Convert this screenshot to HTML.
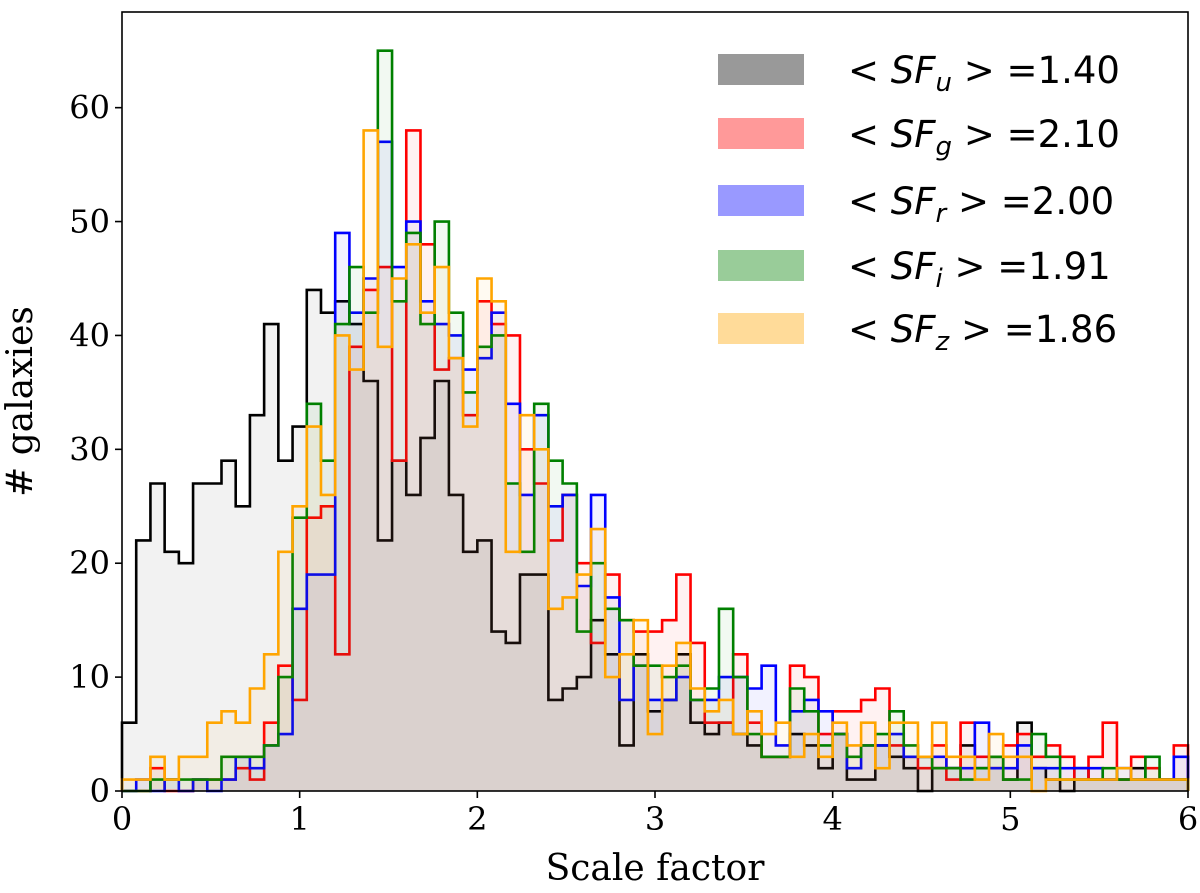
<!DOCTYPE html>
<html><head><meta charset="utf-8">
<style>
html,body{margin:0;padding:0;background:#fff;}
svg{display:block;}
text{font-family:"DejaVu Serif","Liberation Serif",serif;}
.lg{font-family:"DejaVu Sans","Liberation Sans",sans-serif;font-size:37px;}
</style></head>
<body>
<svg id="chart" width="1200" height="893" viewBox="0 0 1200 893" xmlns="http://www.w3.org/2000/svg"></svg>
<script>
const binCount = 75;
const xMin = 0, xMax = 6, yMax = 68.4;
const xTicks = [0,1,2,3,4,5,6];
const yTicks = [0,10,20,30,40,50,60];
const countsU = [6,22,27,21,20,27,27,29,25,33, 41,29,32,44,42,43,41,36,22,29, 26,31,36,26,21,22,14,13,19,19, 8,9,10,15,12,4,12,7,8,12, 6,5,6,5,4,3,3,5,4,2, 5,1,1,4,3,2,0,2,2,4, 2,3,1,6,2,1,0,2,1,1, 1,2,1,1,1];
const countsG = [0,0,2,0,0,1,1,1,2,1, 6,11,8,24,25,12,39,44,46,29, 58,48,37,38,33,43,41,40,30,27, 22,26,20,13,19,15,14,14,15,19, 13,6,6,12,6,3,3,11,10,5, 7,7,8,9,4,3,2,4,1,6, 3,2,4,5,3,4,3,1,3,6, 1,3,2,1,4];
const countsR = [0,1,0,1,0,1,0,1,3,2, 4,5,16,19,19,49,42,45,57,46, 50,43,41,40,37,38,42,34,26,33, 25,26,18,26,17,8,11,8,8,10, 8,8,10,10,9,11,4,7,8,7, 5,2,4,4,5,3,3,3,2,2, 6,2,2,4,2,2,2,2,2,1, 2,1,1,1,3];
const countsI = [0,0,1,1,1,1,1,3,3,3, 4,10,24,34,29,41,46,42,65,43, 49,41,50,42,35,39,40,27,21,34, 29,27,14,20,16,15,11,11,10,11, 8,9,16,10,5,3,3,9,7,4, 5,3,4,5,7,4,3,2,2,1, 2,3,1,1,5,3,1,1,1,2, 1,1,3,1,1];
const countsZ = [1,1,3,1,3,3,6,7,6,9, 12,21,25,32,26,40,37,58,39,45, 48,42,46,38,32,45,43,21,33,30, 16,17,19,23,10,12,15,5,11,13, 9,7,8,5,7,5,6,3,5,3, 6,4,6,2,6,6,3,6,3,3, 1,5,3,3,0,1,1,1,1,1, 2,1,1,1,1];
const seriesNames = ["u","g","r","i","z"];
const seriesColors = ["#000000","#ff0000","#0000ff","#008000","#ffa500"];
const legendValues = ["1.40","2.10","2.00","1.91","1.86"];

const L=122,R=1188,T=12,B=791;
const sx=v=>L+(v-xMin)/(xMax-xMin)*(R-L);
const sy=v=>B-v/yMax*(B-T);
const NS="http://www.w3.org/2000/svg";
const svg=document.getElementById('chart');
function mk(tag,attrs,parent){const e=document.createElementNS(NS,tag);for(const k in attrs)e.setAttribute(k,attrs[k]);(parent||svg).appendChild(e);return e;}

const allCounts=[countsU,countsG,countsR,countsI,countsZ];
const bw=(xMax-xMin)/binCount;
allCounts.forEach((c,si)=>{
  let d=`M${sx(0)},${sy(0)}`;
  c.forEach((v,i)=>{d+=` L${sx(i*bw)},${sy(v)} L${sx((i+1)*bw)},${sy(v)}`;});
  d+=` L${sx(c.length*bw)},${sy(0)}`;
  const f=mk('path',{d:d+' Z',fill:seriesColors[si],'fill-opacity':0.05,stroke:'none'});
  
  
  const s=mk('path',{d:d,fill:'none',stroke:seriesColors[si],'stroke-width':2.6,'stroke-linejoin':'miter'});
  
  
});

const frame=mk('rect',{x:L,y:T,width:R-L,height:B-T,fill:'none',stroke:'#000','stroke-width':1.6});



xTicks.forEach(t=>{
  const x=sx(t);
  const tk=mk('line',{x1:x,x2:x,y1:B,y2:B+7,stroke:'#000','stroke-width':1.6});
  
  
  const tx=mk('text',{x:x,y:B+39,'text-anchor':'middle','font-size':32});
  tx.textContent=t;
  
  
});
yTicks.forEach(t=>{
  const y=sy(t);
  const tk=mk('line',{x1:L-7,x2:L,y1:y,y2:y,stroke:'#000','stroke-width':1.6});
  
  
  const tx=mk('text',{x:L-12,y:y+11,'text-anchor':'end','font-size':32});
  tx.textContent=t;
  
  
});
const xl=mk('text',{x:(L+R)/2,y:880,'text-anchor':'middle','font-size':36});
xl.textContent='Scale factor';


const yl=mk('text',{x:0,y:0,'text-anchor':'middle','font-size':36,transform:`translate(32,${(T+B)/2}) rotate(-90)`});
yl.textContent='# galaxies';



const legendY=[70,134,201,266,329];
seriesNames.forEach((n,i)=>{
  const p=mk('rect',{x:718,y:legendY[i]-16,width:86,height:31,fill:seriesColors[i],'fill-opacity':0.4});
  
  
  const t=mk('text',{x:848,y:legendY[i]+13,class:'lg'});
  
  
  const a=document.createElementNS(NS,'tspan');a.textContent='< ';t.appendChild(a);
  const b=document.createElementNS(NS,'tspan');b.setAttribute('font-style','italic');b.textContent='SF';t.appendChild(b);
  const c=document.createElementNS(NS,'tspan');c.setAttribute('font-style','italic');c.setAttribute('font-size','26');c.setAttribute('dy','8');c.textContent=n;t.appendChild(c);
  const d=document.createElementNS(NS,'tspan');d.setAttribute('dy','-8');d.textContent=' > =' +legendValues[i];t.appendChild(d);
});
</script>
</body></html>
